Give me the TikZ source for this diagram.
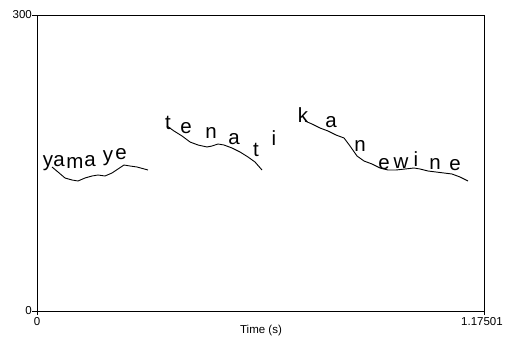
\documentclass[tikz,border=0pt]{standalone}
\usepackage{fontspec}
\setmainfont{Liberation Sans}
\begin{document}
\begin{tikzpicture}[x=1pt,y=-1pt,
  axis/.style={line width=0.9pt},
  ticklab/.style={font=\fontsize{11.5}{13}\selectfont, inner sep=0pt},
  ph/.style={font=\fontsize{20.5}{24}\selectfont, anchor=base, inner sep=0pt},
  contour/.style={line width=0.9pt, line join=round}]
\useasboundingbox (0,0) rectangle (512,345);
\fill[white] (0,0) rectangle (512,345);
% frame
\coordinate (tl) at (37,15);
\coordinate (tr) at (484,15);
\coordinate (bl) at (37,311);
\coordinate (br) at (484,311);
\draw[axis] (tl) -- (tr) -- (br) -- (bl) -- cycle;
% ticks
\coordinate (ty1) at (32,15);
\coordinate (ty0) at (32,311);
\coordinate (tx0) at (37,315);
\coordinate (tx1) at (484,315);
\draw[axis] (tl) -- (ty1);
\draw[axis] (bl) -- (ty0);
\draw[axis] (bl) -- (tx0);
\draw[axis] (br) -- (tx1);
\node[ticklab, anchor=east] (l300) at (32,15) {300};
\node[ticklab, anchor=east] (l0y) at (32,311) {0};
\node[ticklab, anchor=north] (l0x) at (37,317) {0};
\node[ticklab, anchor=north] (l1x) at (482,317) {1.17501};
\node[ticklab, anchor=north] (xl) at (261,325) {Time (s)};
% phonemes
\node[ph] (y1) at (48,166) {y};
\node[ph] (a1) at (59,167) {a};
\node[ph] (m1) at (75,168) {m};
\node[ph] (a2) at (90,167) {a};
\node[ph] (y2) at (108,161) {y};
\node[ph] (e1) at (121,159) {e};
\node[ph] (t1) at (168,130) {t};
\node[ph] (e2) at (186,134) {e};
\node[ph] (n1) at (211,139) {n};
\node[ph] (a3) at (234,145) {a};
\node[ph] (t2) at (256,157) {t};
\node[ph] (i1) at (274,146) {i};
\node[ph] (k1) at (303,122) {k};
\node[ph] (a4) at (331,128) {a};
\node[ph] (n2) at (360,151) {n};
\node[ph] (e3) at (384,169) {e};
\node[ph] (w1) at (401,168) {w};
\node[ph] (i2) at (416,167) {i};
\node[ph] (n3) at (435,169) {n};
\node[ph] (e4) at (455,171) {e};
% contours
\draw[contour] (52,167) -- (58,172) -- (65,178) -- (72,180) -- (78,181) -- (85,178) -- (92,176) -- (98,175) -- (105,176) -- (112,173) -- (118,169) -- (124,165) -- (130,166) -- (137,167) -- (148,170);
\draw[contour] (167,126) -- (174,131) -- (182,136) -- (190,142) -- (198,145) -- (207,147) -- (212,146) -- (218,144) -- (224,145) -- (232,148) -- (240,152) -- (248,157) -- (255,162) -- (262,170);
\draw[contour] (305,121) -- (312,124) -- (320,128) -- (328,131) -- (336,135) -- (344,138) -- (350,146) -- (357,156) -- (364,161) -- (372,164) -- (380,168) -- (388,170) -- (396,170) -- (405,169) -- (414,168) -- (420,169) -- (428,171) -- (436,172) -- (444,173) -- (452,174) -- (460,177) -- (468,181);
\end{tikzpicture}
\end{document}
